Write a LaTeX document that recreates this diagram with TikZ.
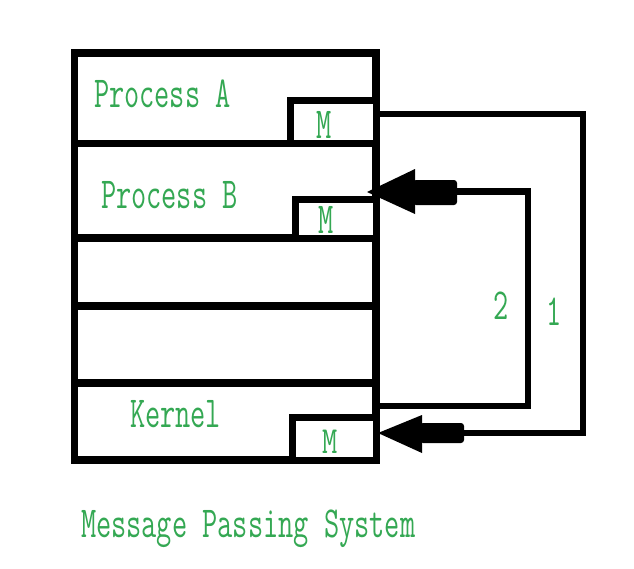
\documentclass[tikz,border=0pt]{standalone}
\usetikzlibrary{calc}
\definecolor{tgreen}{RGB}{52,168,83}
\newcommand{\stretchtxt}[1]{\scalebox{1}[1.5]{#1}}
\begin{document}
\begin{tikzpicture}[x=1pt,y=-1pt,
  compart/.style={draw=black, line width=7.5pt, minimum width=301.5pt, inner sep=0pt, outer sep=0pt},
  mbox/.style={draw=black, fill=white, line width=7pt, inner sep=0pt, outer sep=0pt},
  wire/.style={draw=black, line width=6.5pt},
  lbl/.style={text=tgreen, font=\fontsize{29.5}{31}\ttfamily, inner sep=0pt, outer sep=0pt}]
\useasboundingbox[fill=white] (0,0) rectangle (634,568);

% compartments
\node[compart, minimum height=90.5pt] (procA) at (225.25,98.25) {};
\node[compart, minimum height=94.5pt] (procB) at (225.25,190.75) {};
\node[compart, minimum height=68pt]   (slotC) at (225.25,272) {};
\node[compart, minimum height=77pt]   (slotD) at (225.25,344.5) {};
\node[compart, minimum height=77pt]   (kern)  at (225.25,421.5) {};

% message boxes
\node[mbox, minimum width=85.5pt, minimum height=43.5pt] (mA) at (333.25,121.75) {};
\node[mbox, minimum width=81pt,   minimum height=38.5pt] (mB) at (335.5,218.75) {};
\node[mbox, minimum width=84pt,   minimum height=43pt]   (mK) at (334,438.5) {};

% labels
\node[lbl, anchor=base west] (tA) at (94,107) {\stretchtxt{Process A}};
\node[lbl, anchor=base west] (tB) at (101,208) {\stretchtxt{Process B}};
\node[lbl, anchor=base west] (tK) at (130,427) {\stretchtxt{Kernel}};
\node[lbl, anchor=base] (tmA) at (324,138) {\stretchtxt{M}};
\node[lbl, anchor=base] (tmB) at (326,233) {\stretchtxt{M}};
\node[lbl, anchor=base] (tmK) at (330,453) {\scalebox{1}[1.3]{M}};
\node[lbl, anchor=base] (n2) at (501,319) {\stretchtxt{2}};
\node[lbl, anchor=base] (n1) at (554,325) {\stretchtxt{1}};
\node[lbl, anchor=base west] (title) at (81,537) {\stretchtxt{Message Passing System}};

% connector 1: Process A -> Kernel
\draw[wire] ($(mA.east)+(0,-7.75)$) -| ($(mK.east)+(207,-5.5)$) -- ($(mK.east)+(88,-5.5)$);
\fill[rounded corners=3pt] ($(mK.east)+(44,-15.5)$) rectangle ($(mK.east)+(88,4.5)$);
\fill ($(mK.east)+(2,-5.5)$) -- ($(mK.east)+(46,-23.5)$) -- ($(mK.east)+(46,14.5)$) -- cycle;

% connector 2: Kernel -> Process B
\draw[wire] ($(kern.east)+(0,-15.5)$) -| ($(procB.east)+(152,0.75)$) -- ($(procB.east)+(81,0.75)$);
\fill[rounded corners=3pt] ($(procB.east)+(37,-10.75)$) rectangle ($(procB.east)+(81,14.25)$);
\fill ($(procB.east)+(-9,1.25)$) -- ($(procB.east)+(39,-21.75)$) -- ($(procB.east)+(39,23.25)$) -- cycle;
\end{tikzpicture}
\end{document}
